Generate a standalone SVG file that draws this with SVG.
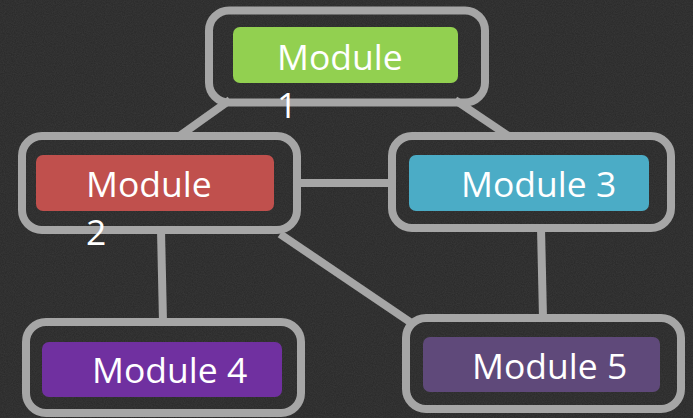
<svg xmlns="http://www.w3.org/2000/svg" width="693" height="418" viewBox="0 0 693 418">
  <defs>
    <!-- faint chalk grain for the board -->
    <filter id="grain" x="0" y="0" width="100%" height="100%">
      <feTurbulence type="fractalNoise" baseFrequency="0.9" numOctaves="2" seed="3"/>
      <feColorMatrix type="matrix" values="0 0 0 0 1  0 0 0 0 1  0 0 0 0 1  0 0 0 0.08 0"/>
    </filter>
  </defs>
  <style>
    .frame { fill: none; stroke: #a6a6a6; stroke-width: 8; }
    .link { stroke: #a6a6a6; stroke-width: 8; fill: none; }
    .label { fill: #ffffff; font-family: "Open Sans", "Noto Sans", sans-serif; font-size: 35.5px; }
  </style>
  <rect width="693" height="418" fill="#282828"/>
  <rect width="693" height="418" filter="url(#grain)"/>

  <g id="connectors">
    <line class="link" x1="230" y1="100" x2="178" y2="137"/>
    <line class="link" x1="455" y1="100" x2="510" y2="137"/>
    <line class="link" x1="297" y1="183" x2="392" y2="183"/>
    <line class="link" x1="161" y1="230" x2="163" y2="322"/>
    <line class="link" x1="280" y1="234" x2="410" y2="322"/>
    <line class="link" x1="541" y1="228" x2="543" y2="318"/>
  </g>

  <g id="module1">
    <rect class="frame" x="209" y="10.5" width="276" height="92" rx="20"/>
    <rect x="233" y="27" width="225" height="56" rx="7" fill="#92d050"/>
    <text class="label" x="277" y="70">Module</text>
    <text class="label" x="277" y="118">1</text>
  </g>

  <g id="module2">
    <rect class="frame" x="22" y="136" width="275" height="94" rx="20"/>
    <rect x="36" y="155" width="238" height="56" rx="7" fill="#c0504d"/>
    <text class="label" x="86" y="197">Module</text>
    <text class="label" x="86" y="245">2</text>
  </g>

  <g id="module3">
    <rect class="frame" x="392" y="136" width="279" height="92" rx="20"/>
    <rect x="409" y="155" width="240" height="56" rx="7" fill="#4bacc6"/>
    <text class="label" x="461" y="197">Module 3</text>
  </g>

  <g id="module4">
    <rect class="frame" x="26" y="322" width="275" height="91" rx="20"/>
    <rect x="42" y="342" width="240" height="55" rx="7" fill="#7030a0"/>
    <text class="label" x="92" y="383">Module 4</text>
  </g>

  <g id="module5">
    <rect class="frame" x="406" y="318" width="275" height="91" rx="20"/>
    <rect x="423" y="337" width="237" height="55" rx="7" fill="#5f497a"/>
    <text class="label" x="472" y="379">Module 5</text>
  </g>
</svg>
